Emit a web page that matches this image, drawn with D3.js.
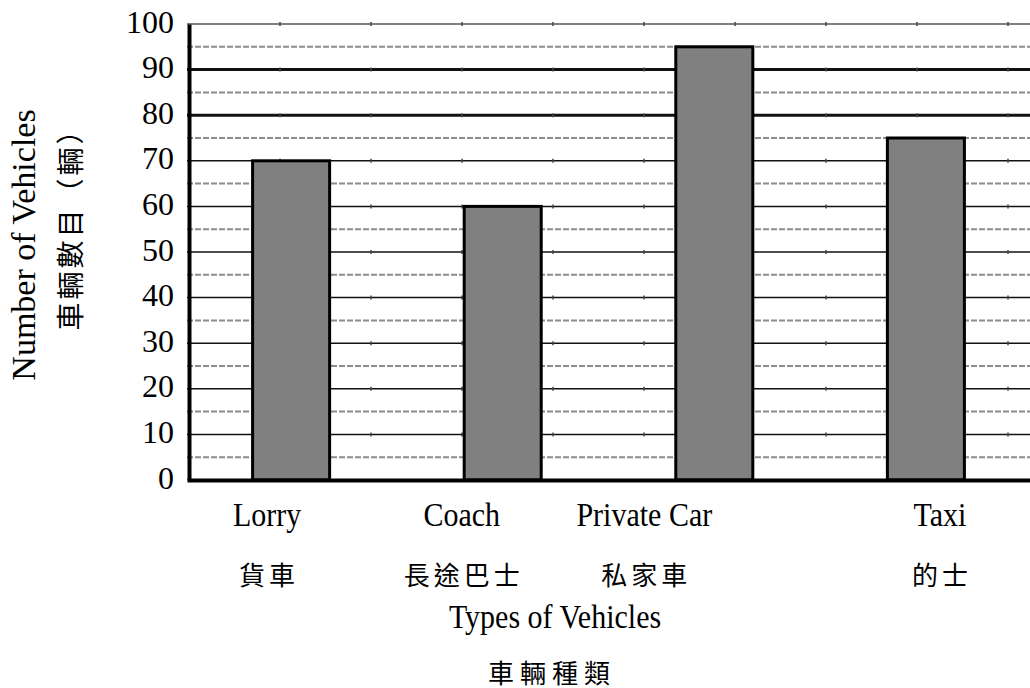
<!DOCTYPE html>
<html>
<head>
<meta charset="utf-8">
<script src="https://cdn.jsdelivr.net/npm/d3@7"></script>
<style>
  body { margin: 0; background: #fff; }
  svg { display: block; }
  .en { font-family: "Liberation Serif", "Times New Roman", serif; fill: #000; }
  .zh { font-family: "Noto Sans CJK TC", sans-serif; fill: #000; }
</style>
</head>
<body>
<script>
// chart data
var categories = ["Lorry", "Coach", "Private Car", "Taxi"];
var categoriesZh = ["貨車", "長途巴士", "私家車", "的士"];
var values = [70, 60, 95, 75];
var yTicks = [0, 10, 20, 30, 40, 50, 60, 70, 80, 90, 100];
var heavyLines = [80, 90];
var dashLines = [5, 15, 25, 35, 45, 55, 65, 75, 85, 95];
var minorTicks = [1, 2, 3, 4, 5, 6, 7, 8, 9];

var width = 1030, height = 688;
var plotLeft = 187, plotRight = 1030, plotTop = 24, plotBottom = 480;

// labels under the bars are not centred on them in the original
var labelShift = [-24, -41, -70, 14];

var svg = d3.select("body").append("svg")
    .attr("width", width)
    .attr("height", height);

var x = d3.scaleBand()
    .domain(categories)
    .range([plotLeft, plotRight])
    .paddingInner(0.636)
    .paddingOuter(0.31);

var y = d3.scaleLinear()
    .domain([0, 100])
    .range([plotBottom, plotTop]);

var xMinor = d3.scaleLinear()
    .domain([0, 9])
    .range([plotLeft + 2, plotLeft + 2 + 9 * 91]);

// dashed half-step lines
svg.append("g").selectAll("line")
    .data(dashLines)
  .enter().append("line")
    .attr("x1", plotLeft).attr("x2", plotRight)
    .attr("y1", function(d) { return y(d); })
    .attr("y2", function(d) { return y(d); })
    .attr("stroke", "#8c8c8c")
    .attr("stroke-width", 2)
    .attr("stroke-dasharray", "6,2");

// solid grid lines
svg.append("g").selectAll("line")
    .data(yTicks.filter(function(d) { return d > 0; }))
  .enter().append("line")
    .attr("x1", plotLeft).attr("x2", plotRight)
    .attr("y1", function(d) { return y(d); })
    .attr("y2", function(d) { return y(d); })
    .attr("stroke", function(d) { return d == 100 ? "#555" : "#111"; })
    .attr("stroke-width", function(d) { return heavyLines.indexOf(d) >= 0 ? 3 : 1.5; });

// tiny tick marks sitting on the grid lines
yTicks.filter(function(d) { return d > 0; }).forEach(function(v) {
  svg.append("g").selectAll("line")
      .data(minorTicks)
    .enter().append("line")
      .attr("x1", function(d) { return xMinor(d); })
      .attr("x2", function(d) { return xMinor(d); })
      .attr("y1", y(v) - 2)
      .attr("y2", y(v) + 2)
      .attr("stroke", "#444")
      .attr("stroke-width", 1.5);
});

// bars
svg.append("g").selectAll("rect")
    .data(values)
  .enter().append("rect")
    .attr("x", function(d, i) { return x(categories[i]); })
    .attr("y", function(d) { return y(d); })
    .attr("width", x.bandwidth())
    .attr("height", function(d) { return plotBottom - y(d); })
    .attr("fill", "#808080")
    .attr("stroke", "#000")
    .attr("stroke-width", 3);

// axes
var yAxis = svg.append("g")
    .attr("transform", "translate(" + (plotLeft + 2) + ",0)")
    .call(d3.axisLeft(y).tickValues(yTicks).tickSize(0).tickSizeOuter(0).tickPadding(15));
yAxis.select(".domain").attr("stroke", "#000").attr("stroke-width", 4);
yAxis.selectAll("text")
    .attr("class", "en")
    .attr("dy", "0.25em")
    .style("font-size", "32px");

var xAxis = svg.append("g")
    .attr("transform", "translate(0," + plotBottom + ")")
    .call(d3.axisBottom(x).tickSize(0).tickSizeOuter(0).tickFormat(""));
xAxis.select(".domain").attr("stroke", "#000").attr("stroke-width", 4);

// category labels (the original's latin text is a little taller than wide)
categories.forEach(function(c, i) {
  var cx = x(c) + x.bandwidth() / 2 + labelShift[i];
  svg.append("text")
      .attr("class", "en")
      .attr("transform", "translate(" + cx + ",526) scale(1,1.12)")
      .attr("text-anchor", "middle")
      .style("font-size", "30px")
      .text(c);
  svg.append("text")
      .attr("class", "zh")
      .attr("x", cx + 2)
      .attr("y", 573)
      .attr("dominant-baseline", "central")
      .attr("text-anchor", "middle")
      .style("font-size", "26px")
      .style("letter-spacing", "4px")
      .text(categoriesZh[i]);
});

// axis titles
svg.append("text")
    .attr("class", "en")
    .attr("transform", "translate(555,628) scale(1,1.12)")
    .attr("text-anchor", "middle")
    .style("font-size", "30px")
    .text("Types of Vehicles");

svg.append("text")
    .attr("class", "zh")
    .attr("x", 552)
    .attr("y", 671)
    .attr("dominant-baseline", "central")
    .attr("text-anchor", "middle")
    .style("font-size", "26px")
    .style("letter-spacing", "6px")
    .text("車輛種類");

svg.append("text")
    .attr("class", "en")
    .attr("transform", "translate(35,245) rotate(-90)")
    .attr("text-anchor", "middle")
    .style("font-size", "34px")
    .text("Number of Vehicles");

svg.append("text")
    .attr("class", "zh")
    .attr("transform", "translate(69,222) rotate(-90)")
    .attr("dominant-baseline", "central")
    .attr("text-anchor", "middle")
    .style("font-size", "28px")
    .style("letter-spacing", "3px")
    .text("車輛數目（輛）");
</script>
</body>
</html>
